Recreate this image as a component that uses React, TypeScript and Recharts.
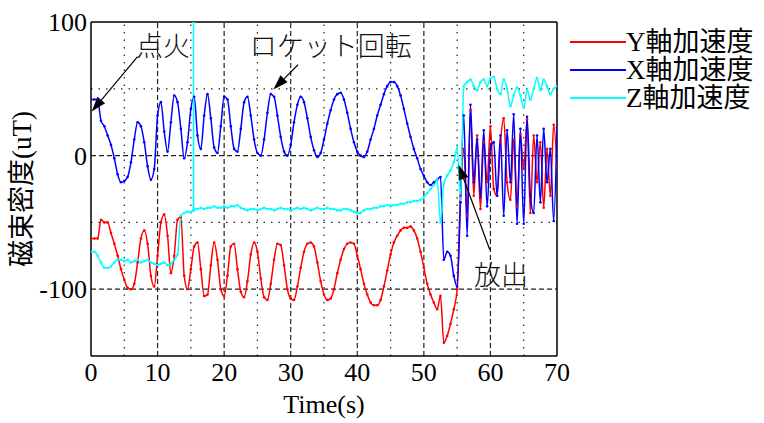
import { LineChart, Line, XAxis, YAxis, ReferenceLine, ReferenceDot } from "recharts"

// sample clock (s)
const TIME = [
  0, 0.5, 1, 1.5, 2, 2.5, 3, 3.5, 4, 4.5,
  5, 5.5, 6, 6.5, 7, 7.5, 8, 8.5, 9, 9.5,
  10, 10.5, 11, 11.5, 12, 12.5, 13, 13.5, 14, 14.5,
  15, 15.5, 16, 16.5, 17, 17.5, 18, 18.5, 19, 19.5,
  20, 20.5, 21, 21.5, 22, 22.5, 23, 23.5, 24, 24.5,
  25, 25.5, 26, 26.5, 27, 27.5, 28, 28.5, 29, 29.5,
  30, 30.5, 31, 31.5, 32, 32.5, 33, 33.5, 34, 34.5,
  35, 35.5, 36, 36.5, 37, 37.5, 38, 38.5, 39, 39.5,
  40, 40.5, 41, 41.5, 42, 42.5, 43, 43.5, 44, 44.5,
  45, 45.5, 46, 46.5, 47, 47.5, 48, 48.5, 49, 49.5,
  50, 50.5, 51, 51.5, 52, 52.5, 53, 53.5, 54, 54.5,
  55, 55.5, 56, 56.5, 57, 57.5, 58, 58.5, 59, 59.5,
  60, 60.5, 61, 61.5, 62, 62.5, 63, 63.5, 64, 64.5,
  65, 65.5, 66, 66.5, 67, 67.5, 68, 68.5, 69, 69.5,
  70,
]

const Y_ACCEL = [
  -62, -62, -62, -48, -50, -50, -58, -66, -75, -85,
  -93, -99, -100, -96, -80, -62, -56, -66, -90, -98,
  -75, -50, -44, -60, -88, -75, -48, -46, -90, -100,
  -85, -68, -65, -85, -105, -104, -82, -65, -78, -100,
  -105, -90, -68, -66, -85, -102, -106, -94, -74, -65,
  -72, -92, -106, -108, -96, -78, -66, -67, -82, -100,
  -107, -108, -98, -84, -72, -66, -65, -68, -80, -94,
  -104, -108, -107, -100, -88, -78, -70, -66, -65, -66,
  -75, -85, -96, -104, -110, -112, -112, -108, -98, -86,
  -74, -65, -60, -56, -54, -54, -53, -56, -62, -72,
  -84, -96, -104, -110, -115, -105, -140, -135, -126, -115,
  -100, -30, 5, -45, 34, -30, 15, -40, 10, -20,
  22, -25, -30, 10, 28, -20, -33, 12, -38, 16,
  -10, 27, -43, 15, -20, 10, -39, 5, -30, 23,
  -8,
]

const X_ACCEL = [
  42, 42, 42, 26, 22, 15, 8, -2, -14, -20,
  -19, -16, -5, 12, 25, 22, 10, -8, -18, -10,
  30, 40, 18, 3, 25, 45, 40, 20, -2, 10,
  35, 44, 15, 5, 30, 46, 28, 6, 2, 22,
  44, 42, 22, 5, 3, 20, 40, 44, 30, 12,
  2, 0, 12, 32, 46, 44, 30, 14, 3, 0,
  8, 25, 38, 44, 40, 28, 14, 4, -1, 2,
  12, 24, 34, 42, 46, 47, 42, 32, 20, 10,
  3, 0, -1, 3, 12, 20, 30, 38, 46, 52,
  55, 55, 52, 45, 35, 24, 14, 5, -2, -10,
  -15, -20, -22, -20, -18, -16, -78, -72, -75, -90,
  -98, -35, 30, -60, 38, -20, 12, -31, 19, -38,
  5, 10, -30, 15, -45, 19, -20, 31, -51, 20,
  -51, 29, -30, -43, 15, -35, 20, -20, 5, -49,
  21,
]

const Z_ACCEL = [
  -72, -72, -75, -80, -84, -84, -83, -80, -78, -78,
  -79, -78, -80, -79, -78, -80, -79, -78, -80, -81,
  -82, -81, -80, -82, -81, -78, -74, -45, -43, -42,
  -42, -40, -40, -39, -40, -39, -39, -38, -39, -39,
  -38, -39, -38, -38, -37, -39, -40, -41, -40, -40,
  -41, -40, -39, -40, -40, -41, -40, -39, -40, -40,
  -41, -40, -39, -40, -39, -40, -41, -40, -39, -40,
  -40, -39, -40, -40, -41, -41, -40, -40, -41, -42,
  -43, -43, -41, -40, -40, -39, -39, -38, -38, -37,
  -38, -37, -37, -36, -36, -35, -35, -34, -34, -33,
  -31, -28, -25, -22, -18, -50, -21, -15, -11, -5,
  6, -33, 52, 55, 57, 52, 49, 55, 57, 52,
  58, 59, 50, 46, 57, 50, 37, 45, 51, 45,
  36, 49, 42, 50, 58, 49, 57, 52, 46, 50,
  52,
]

// short glitch on the Z channel at ~15.4 s
const Z_SPIKE_TIME = [15.38, 15.4, 15.42]
const Z_SPIKE_VALUE = [-41, 100, -41]

const SERIES_NAMES = ["Y軸加速度", "X軸加速度", "Z軸加速度"]
const SERIES_COLORS = ["#ff0000", "#0000ff", "#00ffff"]

const X_TICKS = [0, 10, 20, 30, 40, 50, 60, 70]
const Y_TICKS = [-100, 0, 100]
const GRID_X_DASHED = [10, 20, 30, 40, 50, 60]
const GRID_X_DOTTED = [5, 15, 25, 35, 45, 55, 65]
const GRID_Y_DASHED = [0, -100]
const GRID_Y_DOTTED = [50, -50]

const FONT = "'Liberation Serif', 'Times New Roman', 'Noto Sans CJK JP', serif"

const toPoints = (ts: number[], vs: number[]) => ts.map((t, i) => ({ t, v: vs[i] }))

const yData = toPoints(TIME, Y_ACCEL)
const xData = toPoints(TIME, X_ACCEL)
const zData = [...toPoints(TIME, Z_ACCEL), ...toPoints(Z_SPIKE_TIME, Z_SPIKE_VALUE)].sort((a, b) => a.t - b.t)
const seriesData = [yData, xData, zData]

// annotation arrows: tail -> tip, plus label position
const NOTES = [
  { text: "点火", label: { x: 10.8, y: 81.5 }, tail: { x: 7.0, y: 74 }, tip: { x: 0.1, y: 33 } },
  { text: "ロケット回転", label: { x: 36.0, y: 81 }, tail: { x: 31.1, y: 68 }, tip: { x: 27.4, y: 49.5 } },
  { text: "放出", label: { x: 61.6, y: -90 }, tail: { x: 59.9, y: -70.5 }, tip: { x: 55.2, y: -6.8 } },
]

function Arrow(props: any) {
  const { x1, y1, x2, y2 } = props
  const dx = x2 - x1
  const dy = y2 - y1
  const len = Math.sqrt(dx * dx + dy * dy) || 1
  const ux = dx / len
  const uy = dy / len
  const head = 15
  const half = 5
  const bx = x2 - ux * head
  const by = y2 - uy * head
  const pts = `${x2},${y2} ${bx - uy * half},${by + ux * half} ${bx + uy * half},${by - ux * half}`
  return (
    <g>
      <line x1={x1} y1={y1} x2={bx} y2={by} stroke="#000" strokeWidth={1.2} />
      <polygon points={pts} fill="#000" />
    </g>
  )
}

function NoteText(text: string) {
  return (props: any) => (
    <text x={props.cx} y={props.cy} textAnchor="middle" dominantBaseline="central"
      fontSize={27} fontFamily={FONT} fontWeight={300} fill="#111">
      {text}
    </text>
  )
}

// tick labels in the serif face
function XTick(props: any) {
  const { x, y, payload } = props
  return (
    <text x={x} y={y} dy="0.71em" textAnchor="middle" fontSize={26} fontFamily={FONT} fill="#000">
      {payload.value}
    </text>
  )
}

function YTick(props: any) {
  const { x, y, payload } = props
  return (
    <text x={x} y={y} dy="0.35em" textAnchor="end" fontSize={26} fontFamily={FONT} fill="#000">
      {payload.value}
    </text>
  )
}

function YTitle(props: any) {
  const vb = props.viewBox || { x: 0, y: 22, width: 91, height: 334 }
  const cx = 22
  const cy = vb.y + vb.height / 2
  return (
    <text x={cx} y={cy} transform={`rotate(-90, ${cx}, ${cy})`} textAnchor="middle"
      dominantBaseline="central" fontSize={27} fontFamily={FONT} fill="#000">
      磁束密度(uT)
    </text>
  )
}

export default function App() {
  return (
    <div style={{ position: "absolute", left: 0, top: 0, width: 764, height: 423, background: "#fff", fontFamily: FONT }}>
      <LineChart width={764} height={423} data={yData} margin={{ top: 22, right: 207, bottom: 0, left: 0 }}
        style={{ fontFamily: FONT }}>
        <XAxis dataKey="t" type="number" domain={[0, 70]} ticks={X_TICKS} allowDataOverflow
          height={67} tickSize={0} tickMargin={7} axisLine={{ stroke: "#000", strokeWidth: 1.5 }}
          tick={<XTick />}
          label={{ value: "Time(s)", position: "insideBottom", offset: 10, fontSize: 26, fontFamily: FONT, fill: "#000" }} />
        <YAxis type="number" domain={[-150, 100]} ticks={Y_TICKS} allowDataOverflow width={91}
          tickSize={0} tickMargin={4} axisLine={{ stroke: "#000", strokeWidth: 1.5 }}
          tick={<YTick />}
          label={{ content: YTitle }} />

        {GRID_X_DOTTED.map((x) => (
          <ReferenceLine key={"xd" + x} x={x} stroke="#222" strokeWidth={1.2} strokeDasharray="1.5 6" />
        ))}
        {GRID_X_DASHED.map((x) => (
          <ReferenceLine key={"xs" + x} x={x} stroke="#222" strokeWidth={1.2} strokeDasharray="5 3" />
        ))}
        {GRID_Y_DOTTED.map((y) => (
          <ReferenceLine key={"yd" + y} y={y} stroke="#222" strokeWidth={1.2} strokeDasharray="1.5 6" />
        ))}
        {GRID_Y_DASHED.map((y) => (
          <ReferenceLine key={"ys" + y} y={y} stroke="#222" strokeWidth={1.2} strokeDasharray="5 3" />
        ))}
        <ReferenceLine x={70} stroke="#000" strokeWidth={1.5} />
        <ReferenceLine y={100} stroke="#000" strokeWidth={1.5} />

        {seriesData.map((d, i) => (
          <Line key={SERIES_NAMES[i]} data={d} dataKey="v" name={SERIES_NAMES[i]} type="monotoneX"
            stroke={SERIES_COLORS[i]} strokeWidth={1.5}
            dot={{ r: 1.3, fill: SERIES_COLORS[i], stroke: "none" }}
            isAnimationActive={false} />
        ))}

        {NOTES.map((n) => (
          <ReferenceLine key={"a" + n.text} segment={[n.tail, n.tip]} shape={Arrow} ifOverflow="visible" />
        ))}
        {NOTES.map((n) => (
          <ReferenceDot key={"t" + n.text} x={n.label.x} y={n.label.y} r={0} shape={NoteText(n.text)} ifOverflow="visible" />
        ))}
      </LineChart>

      {/* legend, outside the plot on the right */}
      <div style={{ position: "absolute", left: 570, top: 28 }}>
        {SERIES_NAMES.map((name, i) => (
          <div key={name} style={{ display: "flex", alignItems: "center", height: 28 }}>
            <span style={{ width: 56, height: 2, background: SERIES_COLORS[i], display: "inline-block" }} />
            <span style={{ fontSize: 27, lineHeight: "28px", color: "#000", whiteSpace: "nowrap" }}>{name}</span>
          </div>
        ))}
      </div>
    </div>
  )
}
